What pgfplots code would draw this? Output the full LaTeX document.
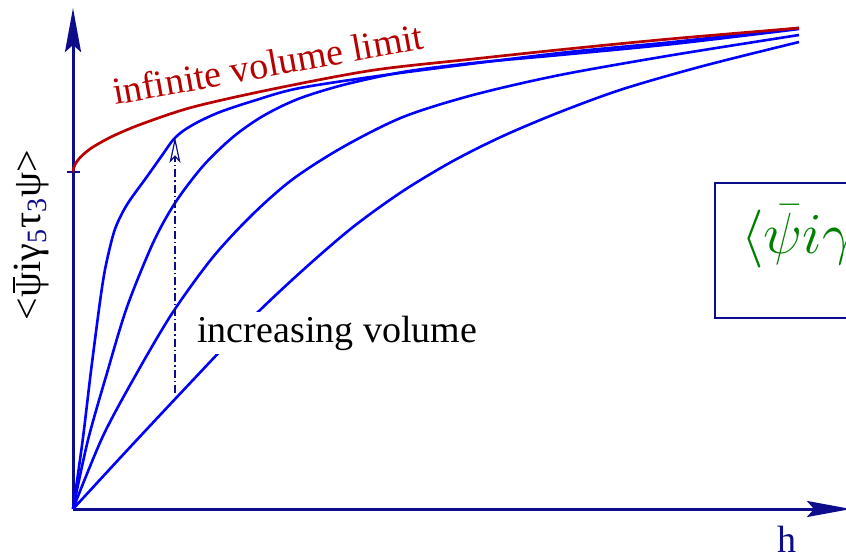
\documentclass[border=0pt]{standalone}
\usepackage{fix-cm}
\usepackage{pgfplots}
\pgfplotsset{compat=1.18}
\usepackage{fontspec}
\setmainfont{Liberation Serif}
\usetikzlibrary{arrows.meta}

\definecolor{axnavy}{rgb}{0.05,0.05,0.55}
\definecolor{curveblue}{rgb}{0,0,1}
\definecolor{limred}{rgb}{0.72,0,0}
\definecolor{boxgreen}{rgb}{0,0.5,0}

% psi with a bar on top
\newcommand\psib{\ooalign{ψ\cr\hidewidth\raisebox{0.64em}{\rule{0.4em}{0.05em}}\hidewidth\cr}}

\begin{document}
\begin{tikzpicture}
\begin{axis}[
    x=0.5pt, y=0.5pt,
    xmin=-73, xmax=773,
    ymin=-45, ymax=509,
    hide axis,
    clip=false,
    every axis plot/.append style={smooth, no markers},
  ]
  \coordinate (bl) at (axis cs:-73,-45);
  \coordinate (tr) at (axis cs:773,509);

  % axes
  \draw[axnavy, line width=1.5pt, -{Stealth[length=22pt, width=8pt, inset=3.5pt]}]
    (axis cs:0,0) -- (axis cs:0,501);
  \draw[axnavy, line width=1.5pt, -{Stealth[length=22pt, width=8pt, inset=3.5pt]}]
    (axis cs:0,0) -- (axis cs:778,0);
  \draw[axnavy, line width=0.7pt] (axis cs:-6.5,337) -- (axis cs:7,337);

  % finite volume curves
  \addplot[curveblue, line width=1.3pt] coordinates {
    (0,0)(9.7,69)(17.7,135.7)(26.3,202.3)(31.3,235.7)(37,262)(42,280)
    (48.7,295)(57,309)(73.7,332)(90,355)(100,369)(110,378)(125,387)(147,397)
    (180,408)(227,421)(327,436)(487,456)(600,467)(726,481)};
  \addplot[curveblue, line width=1.3pt] coordinates {
    (0,0)(15,69)(34,136)(54,202)(80,266)(102,306)(130,343)(160,372)
    (190,393)(225,410)(270,424)(330,437)(400,446)(487,454)(600,465)(726,480)};
  \addplot[curveblue, line width=1.3pt] coordinates {
    (0,0)(30,73)(65,138)(100,197)(140,252)(180,295)(220,330)(270,362)
    (330,392)(400,414)(487,434)(600,454)(726,474)};
  \addplot[curveblue, line width=1.3pt] coordinates {
    (0,0)(60,65)(120,129)(180,192)(230,239)(280,282)(330,318)(380,348)
    (430,373)(487,397)(550,420)(630,443)(726,467)};

  % infinite volume limit
  \addplot[limred, line width=1.35pt] coordinates {
    (0,337)(0.5,340.5)(2,344.4)(5,349)(10,354.3)(20,362)(40,373)(70,385.5)
    (120,402)(200,420)(300,438.8)(400,450)(500,460.6)(600,470.3)(726,481)};

  % arrow
  \draw[axnavy, line width=0.6pt, dash pattern=on 4pt off 1.5pt on 0.7pt off 1.5pt,
        -{Stealth[open, length=13pt, width=5.5pt, inset=3pt]}]
    (axis cs:102,116) -- (axis cs:102,372);

  \node[anchor=base west, fill=white, inner sep=2pt, font=\fontsize{19}{22}\selectfont]
    at (axis cs:120,167) {increasing volume};
  \node[anchor=base west, rotate=10.3, text=limred, inner sep=0pt,
        font=\fontsize{19}{22}\selectfont]
    at (axis cs:42,404) {infinite volume limit};
  \node[anchor=base west, text=axnavy, inner sep=0pt, font=\fontsize{19}{22}\selectfont]
    at (axis cs:704,-43) {h};
  \node[rotate=90, inner sep=0pt, font=\fontsize{20}{23}\selectfont]
    at (axis cs:-41,274)
    {<\psib iγ\textcolor{axnavy}{\textsubscript{5}}τ\textcolor{axnavy}{\textsubscript{3}}ψ>};

  % formula box
  \draw[axnavy, line width=1pt] (axis cs:642,326) rectangle (axis cs:830,191);
  \node[anchor=base west, text=boxgreen, inner sep=0pt, font=\fontsize{29}{32}\selectfont]
    at (axis cs:668,256) {$\langle\bar\psi i\gamma_5\tau_3\psi\rangle$};
\end{axis}
\pgfresetboundingbox
\useasboundingbox (bl) rectangle (tr);
\end{tikzpicture}
\end{document}
